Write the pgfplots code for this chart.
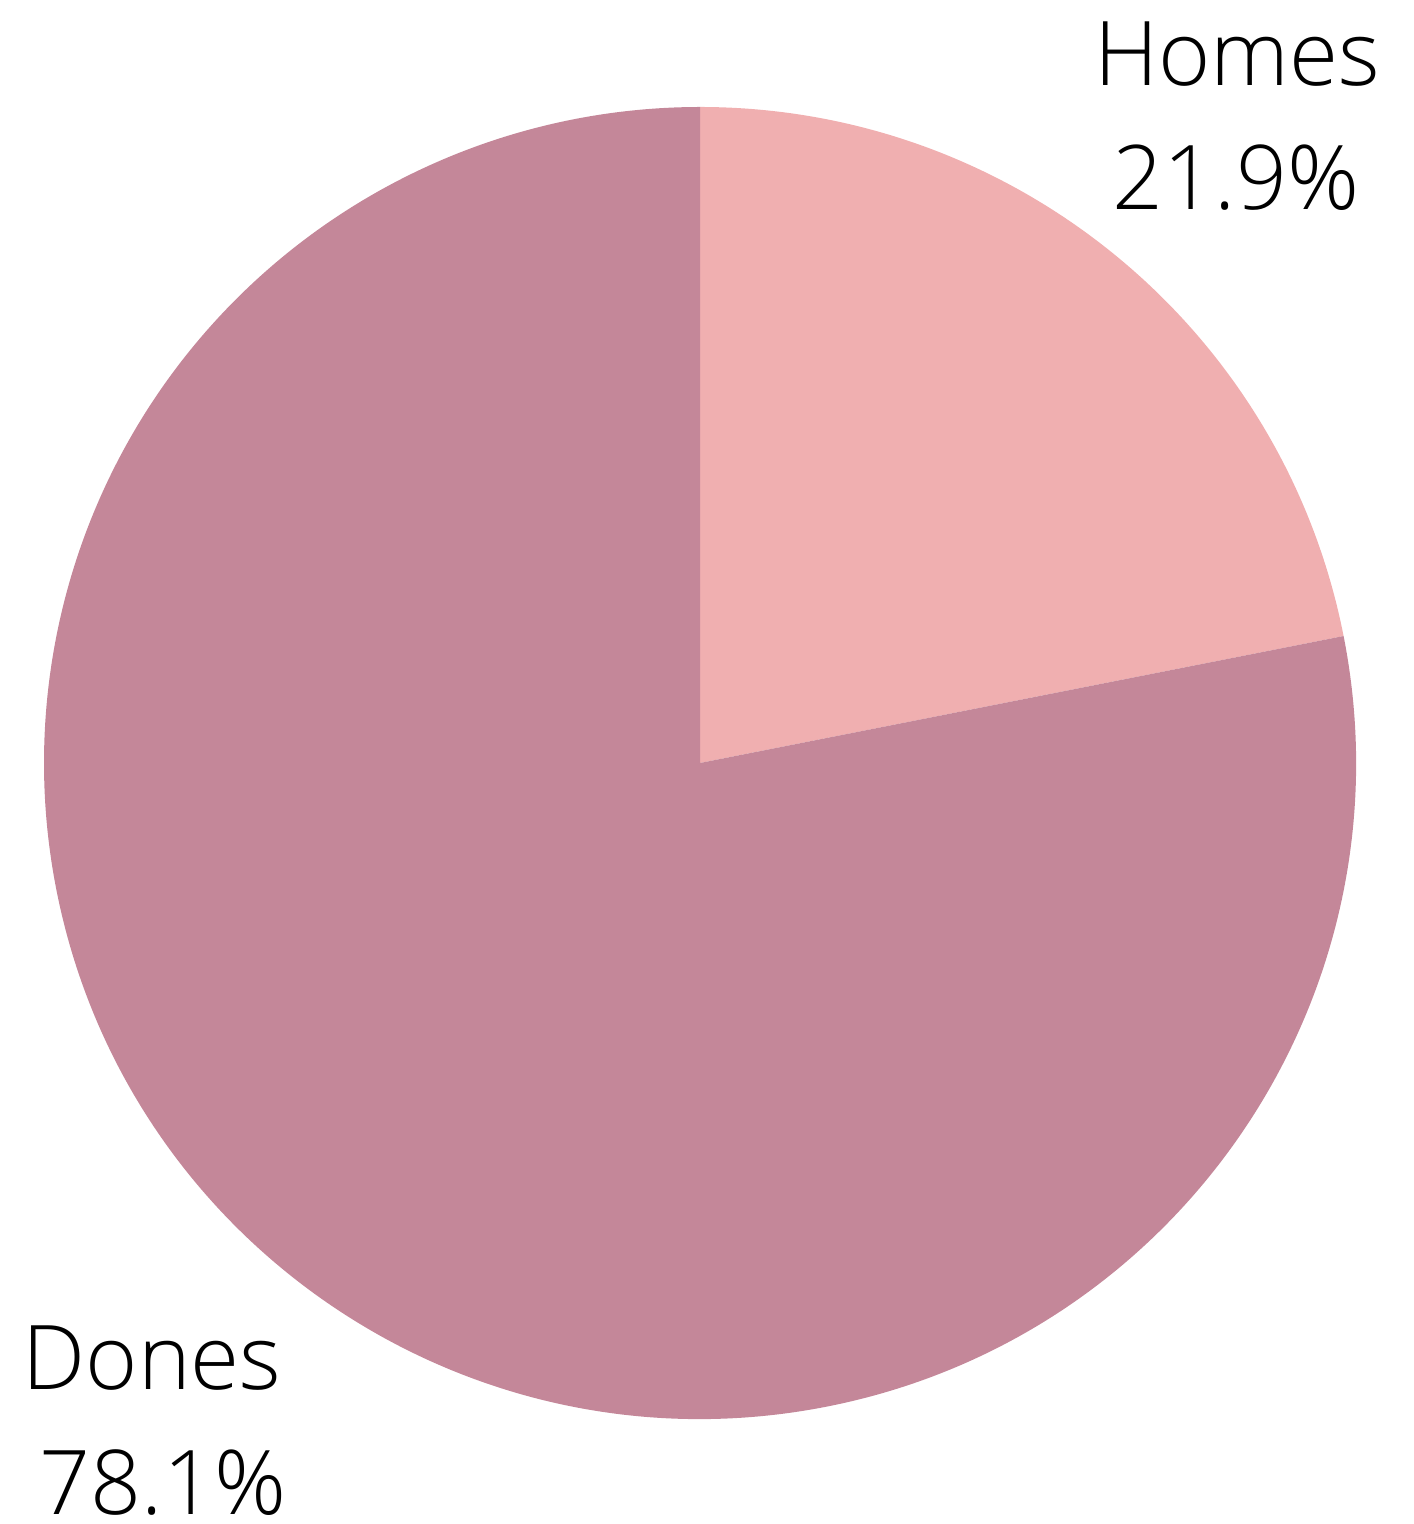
\documentclass[border=0pt]{standalone}
\usepackage{fontspec}
\setmainfont{Open Sans Light}
\usepackage{pgfplots}
\usepackage{pgfplotstable}
\pgfplotsset{compat=1.18}

\definecolor{homes}{HTML}{F0AFB0}
\definecolor{dones}{HTML}{C48799}

\pgfplotstableread{
label  value
Homes  21.9
Dones  78.1
}\piedata

\begin{document}
\begin{tikzpicture}
\pgfplotstablegetelem{0}{value}\of\piedata \let\vhomes\pgfplotsretval
\pgfplotstablegetelem{1}{value}\of\piedata \let\vdones\pgfplotsretval
\pgfmathsetmacro{\ahomes}{90-3.6*\vhomes}
\pgfmathsetmacro{\adones}{\ahomes-3.6*\vdones}
\begin{axis}[
    hide axis,
    scale only axis,
    width=139.1mm, height=152.4mm,
    xmin=0, xmax=1391, ymin=0, ymax=1524,
    clip=false,
]
    \path (axis cs:0,0) rectangle (axis cs:1391,1524);
    % slices, clockwise from the top
    \fill[homes] (axis cs:700,761) -- ++(90:65.6mm) arc[start angle=90, end angle=\ahomes, radius=65.6mm] -- cycle;
    \fill[dones] (axis cs:700,761) -- ++(\ahomes:65.6mm) arc[start angle=\ahomes, end angle=\adones, radius=65.6mm] -- cycle;
    \begin{scope}[every node/.style={inner sep=0pt, font=\fontsize{25.4}{30}\selectfont}]
    \node at (axis cs:1237,1470) {Homes};
    \node at (axis cs:1236,1346) {\vhomes\%};
    \node at (axis cs:152,166) {Dones};
    \node at (axis cs:163,41) {\vdones\%};
    \end{scope}
\end{axis}
\end{tikzpicture}
\end{document}
